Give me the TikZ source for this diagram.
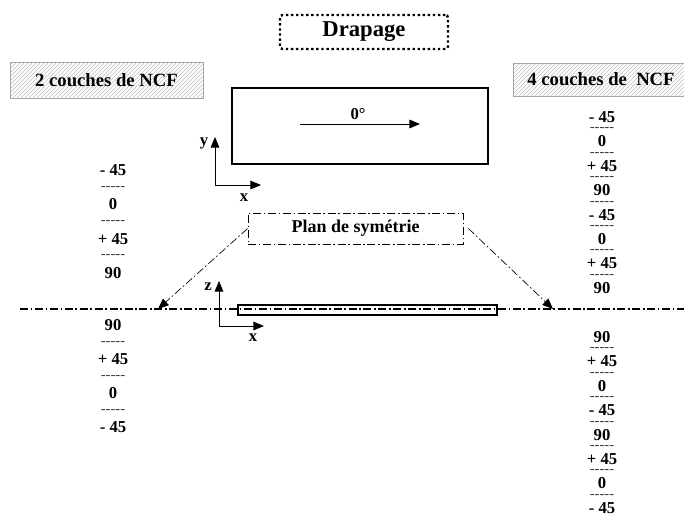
\documentclass[tikz,border=0pt]{standalone}
\usepackage{fontspec}
\setmainfont{Liberation Serif}
\usetikzlibrary{arrows.meta,patterns}
\begin{document}
\begin{tikzpicture}[x=0.75pt,y=-0.75pt,
  num/.style={font=\fontsize{12.5}{14}\selectfont\bfseries, inner sep=0pt},
  sepline/.style={font=\fontsize{11}{13}\selectfont, text=black!75, inner sep=0pt},
  hatchbox/.style={draw=gray!70, pattern=north east lines, pattern color=gray!50, line width=0.6pt,
    font=\fontsize{14}{16}\selectfont\bfseries},
  ddot/.style={dash pattern=on 6pt off 2pt on 1.2pt off 2pt},
  tip/.style={-{Triangle[length=8pt,width=6.5pt]}},
  thickbox/.style={draw, line width=2.2pt, inner sep=0pt},
  axis/.style={line width=0.7pt, tip},
  axlabel/.style={font=\fontsize{12.5}{14}\selectfont\bfseries, inner sep=0pt}]
\useasboundingbox (0,0) rectangle (684,515);

% title
\node[draw, line width=1.8pt, dotted, rounded corners=2pt, minimum width=126pt, minimum height=25.5pt,
  font=\fontsize{17}{19}\selectfont\bfseries] (drap) at (364,32) {Drapage};

% hatched labels
\node[hatchbox, minimum width=144.75pt, minimum height=27pt] (ncf2) at (106.5,80) {2 couches de NCF};
\node[hatchbox, minimum width=131.25pt, minimum height=24.75pt] (ncf4) at (601,79.5) {4 couches de\ \ NCF};

% ply rectangle
\node[thickbox, minimum width=192pt, minimum height=57pt] (ply) at (360,126) {};
\coordinate (a0s) at (300,124);
\coordinate (a0e) at (420,124);
\draw[line width=0.7pt, tip] (a0s) -- (a0e);
\node[axlabel] (deg) at (358,114) {0°};

% x-y axes
\coordinate (o1) at (215,185);
\coordinate (y1) at (215,137);
\coordinate (x1) at (261,185);
\draw[axis] (o1) -- (y1);
\draw[axis] (o1) -- (x1);
\node[axlabel] (ly) at (204,143) {y};
\node[axlabel] (lx) at (244,198) {x};

% symmetry plane
\node[draw, ddot, line width=0.6pt, minimum width=161.25pt, minimum height=23.25pt,
  font=\fontsize{13.5}{15}\selectfont\bfseries] (plan) at (355.5,228.5) {Plan de symétrie};
\coordinate (tipL) at (158,309);
\coordinate (tipR) at (553,309);
\draw[ddot, line width=0.5pt, tip] (plan.west) -- (tipL);
\draw[ddot, line width=0.5pt, tip] ([xshift=3.75pt]plan.east) -- (tipR);

% mid-plane line
\coordinate (hl) at (20,309);
\coordinate (hr) at (684,309);
\draw[ddot, line width=0.8pt] (hl) -- (hr);

% laminate section
\node[thickbox, minimum width=194.25pt, minimum height=7.5pt] (lam) at (367.5,310) {};

% x-z axes
\coordinate (o2) at (219,326);
\coordinate (z2) at (219,281);
\coordinate (x2) at (264,326);
\draw[axis] (o2) -- (z2);
\draw[axis] (o2) -- (x2);
\node[axlabel] (lz) at (208,287) {z};
\node[axlabel] (lx2) at (253,338) {x};

% left stacks (2 plies)
\foreach \t [count=\i] in {- 45,0,+ 45,90}
  \node[num] (LU\i) at (113,{170+34.3*(\i-1)}) {\t};
\foreach \i in {1,2,3}
  \node[sepline] (LUd\i) at (113,{170+34.3*\i-16}) {-{}-{}-{}-{}-};
\foreach \t [count=\i] in {90,+ 45,0,- 45}
  \node[num] (LL\i) at (113,{325+34*(\i-1)}) {\t};
\foreach \i in {1,2,3}
  \node[sepline] (LLd\i) at (113,{325+34*\i-16}) {-{}-{}-{}-{}-};

% right stacks (4 plies)
\foreach \t [count=\i] in {- 45,0,+ 45,90,- 45,0,+ 45,90}
  \node[num] (RU\i) at (602,{117+24.4*(\i-1)}) {\t};
\foreach \i in {1,...,7}
  \node[sepline] (RUd\i) at (602,{117+24.4*\i-11.5}) {-{}-{}-{}-{}-};
\foreach \t [count=\i] in {90,+ 45,0,- 45,90,+ 45,0,- 45}
  \node[num] (RL\i) at (602,{337+24.4*(\i-1)}) {\t};
\foreach \i in {1,...,7}
  \node[sepline] (RLd\i) at (602,{337+24.4*\i-11.5}) {-{}-{}-{}-{}-};
\end{tikzpicture}
\end{document}
